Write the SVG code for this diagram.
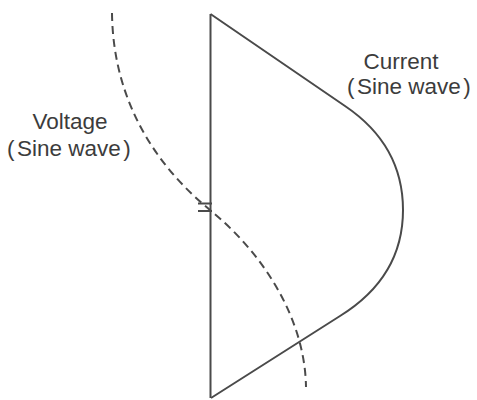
<svg xmlns="http://www.w3.org/2000/svg" width="477" height="400" viewBox="0 0 477 400">
<style>
.ln{fill:none;stroke:#4a4a4a;stroke-width:2;stroke-linejoin:miter}
.dash{fill:none;stroke:#4a4a4a;stroke-width:2;stroke-dasharray:8 5}
.t{font-family:"Liberation Sans",Arial,sans-serif;font-size:22.5px;fill:#3c3c3c}
</style>
<rect width="477" height="400" fill="#fff"/>
<g id="connectors">
<path class="ln" d="M210.5,14 L210.5,398"/>
<path class="ln" d="M198,203.5 L212,203.5 M198,211 L212,211" stroke-width="1.6"/>
</g>
<g id="current-wave">
<path class="ln" d="M210.5,14 L345,106 C385,133 403,168 403,210 C403,245 390,285 340,316 L211,398"/>
</g>
<g id="voltage-wave">
<path class="dash" d="M112,13 C113,100 155,165 210,210 C265,255 305,320 306,387"/>
</g>
<g id="current-label">
<text class="t" x="401" y="69" text-anchor="middle">Current</text>
<text class="t" x="347" y="94">(<tspan dx="2.5">Sine wave</tspan><tspan dx="2.5">)</tspan></text>
</g>
<g id="voltage-label">
<text class="t" x="70" y="129" text-anchor="middle">Voltage</text>
<text class="t" x="7" y="156">(<tspan dx="2.5">Sine wave</tspan><tspan dx="2.5">)</tspan></text>
</g>
</svg>
